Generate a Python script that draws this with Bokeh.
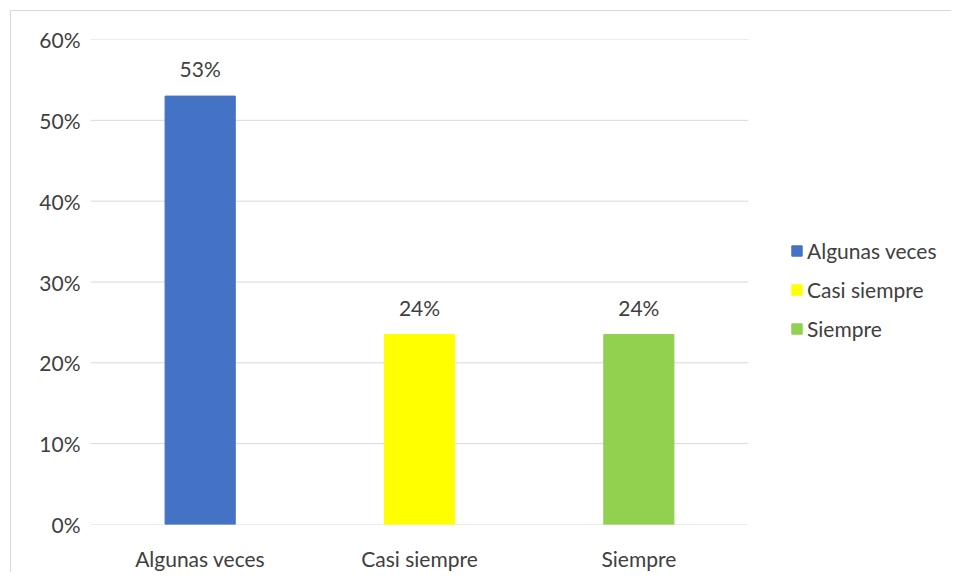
from bokeh.plotting import figure
from bokeh.models import (ColumnDataSource, NumeralTickFormatter, Legend, LegendItem,
                          FixedTicker, Range1d)
from bokeh.core.properties import value
from bokeh.embed import file_html
from bokeh.resources import INLINE

categories = ["Algunas veces", "Casi siempre", "Siempre"]
values = [0.53, 0.235, 0.235]
labels = ["53%", "24%", "24%"]
colors = ["#4472C4", "#FFFF00", "#92D050"]
y_ticks = [0, 0.1, 0.2, 0.3, 0.4, 0.5, 0.6]

FONT = "Lato"
TXT = "#404040"
FS = "21px"
GRID = "#d9d9d9"

n = len(categories)
xpos = [i + 0.5 for i in range(n)]
src = ColumnDataSource(dict(x=xpos, cat=categories, val=values, lab=labels, col=colors))

p = figure(x_range=Range1d(0, 3.93), y_range=Range1d(0, 0.6), width=941, height=562,
           output_backend="svg", toolbar_location=None,
           min_border_left=79, min_border_right=0, min_border_top=28, min_border_bottom=48)
p.styles = {"border-top": "1px solid " + GRID, "border-left": "1px solid " + GRID,
            "margin-left": "10px", "margin-top": "10px"}
p.outline_line_color = None
p.background_fill_color = "white"
p.xgrid.grid_line_color = None
p.ygrid.grid_line_color = None

# horizontal gridlines spanning the category area only
p.segment(x0=[0] * len(y_ticks), x1=[n] * len(y_ticks), y0=y_ticks, y1=y_ticks,
          line_color=GRID, line_width=1)

r = p.vbar(x="x", top="val", width=0.32, color="col", source=src)

p.text(x="x", y="val", text="lab", source=src, text_align="center", text_baseline="bottom",
       y_offset=-15, text_font=value(FONT), text_font_size=FS, text_color=TXT)

p.yaxis.ticker = FixedTicker(ticks=y_ticks)
p.yaxis.formatter = NumeralTickFormatter(format="0%")
p.xaxis.ticker = FixedTicker(ticks=xpos)
p.xaxis.major_label_overrides = {x: c for x, c in zip(xpos, categories)}
p.yaxis.major_label_standoff = 10
p.xaxis.major_label_standoff = 21
for ax in (p.xaxis, p.yaxis):
    ax.axis_line_color = None
    ax.major_tick_line_color = None
    ax.minor_tick_line_color = None
    ax.major_tick_out = 0
    ax.major_tick_in = 0
    ax.minor_tick_out = 0
    ax.major_label_text_font = FONT
    ax.major_label_text_font_size = FS
    ax.major_label_text_color = TXT

items = [LegendItem(label=c, renderers=[r], index=i) for i, c in enumerate(categories)]
legend = Legend(items=items, location=(700, 183), padding=0, margin=0, spacing=14,
                glyph_width=13, glyph_height=13, label_standoff=4, label_height=25,
                label_text_font=FONT, label_text_font_size=FS, label_text_color=TXT,
                border_line_color=None, background_fill_alpha=0)
p.add_layout(legend, "center")

open("out.html", "w").write(file_html(p, INLINE))
